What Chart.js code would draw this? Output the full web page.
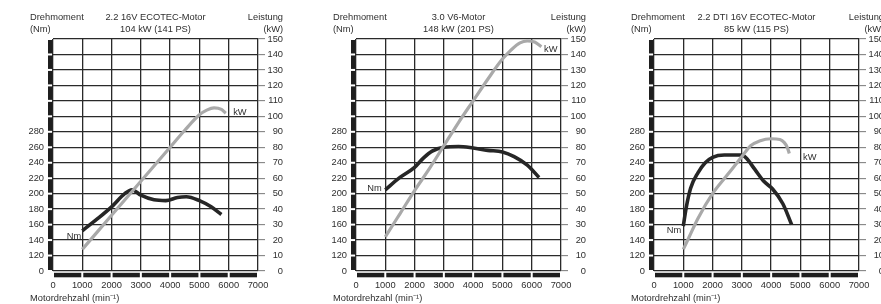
<!DOCTYPE html>
<html><head><meta charset="utf-8">
<script src="https://cdn.jsdelivr.net/npm/chart.js@4.4.1/dist/chart.umd.min.js"></script>
<style>
html,body{margin:0;padding:0;background:#fff;overflow:hidden;width:881px;height:304px;position:relative;}
.p{position:absolute;top:0;width:300px;height:304px;}
canvas{display:block;}
</style></head><body>
<div class="p" style="left:0px"><canvas id="c1" width="300" height="304"></canvas></div>
<div class="p" style="left:303px"><canvas id="c2" width="300" height="304"></canvas></div>
<div class="p" style="left:601px"><canvas id="c3" width="300" height="304"></canvas></div>
<script>
// ---------- data ----------
const rpmTicks = [0, 1000, 2000, 3000, 4000, 5000, 6000, 7000];
const kwTicks = [0, 10, 20, 30, 40, 50, 60, 70, 80, 90, 100, 110, 120, 130, 140, 150];
const nmTickValues = [100, 120, 140, 160, 180, 200, 220, 240, 260, 280];
const nmTickLabels = ['0', '120', '140', '160', '180', '200', '220', '240', '260', '280'];

const axisTitles = ['Drehmoment', '(Nm)', 'Leistung', '(kW)', 'Motordrehzahl (min\u207B\u00B9)'];

const e1Title = ['2.2 16V ECOTEC-Motor', '104 kW (141 PS)'];
const e1TorqueRpm = [1000, 1500, 2000, 2450, 2700, 3000, 3450, 3850, 4250, 4550, 5000, 5400, 5750];
const e1TorqueNm  = [152, 167, 183, 200, 205, 198, 192, 191, 195, 196, 191, 183, 173];
const e1PowerRpm  = [1000, 1500, 2000, 2500, 3000, 3500, 4000, 4500, 5000, 5250, 5500, 5750, 5900];
const e1PowerKw   = [14, 25, 36, 47, 58, 69, 80, 91, 101, 104, 105.5, 104.5, 102];
const e1LabelNm = [720, 22.4];   // rpm, kW-scale position
const e1LabelKw = [6380, 102.6];

const e2Title = ['3.0 V6-Motor', '148 kW (201 PS)'];
const e2TorqueRpm = [1000, 1500, 2000, 2300, 2600, 3000, 3500, 4000, 4500, 5000, 5400, 5850, 6250];
const e2TorqueNm  = [205, 221, 234, 246, 255, 260, 261, 259, 256, 254, 248, 237, 221];
const e2PowerRpm  = [1000, 1500, 2000, 2500, 3000, 3500, 4000, 4500, 5000, 5300, 5600, 5850, 6100, 6330];
const e2PowerKw   = [22, 37, 52, 66, 81, 96, 110, 124, 137, 143, 147.5, 148.7, 148, 145];
const e2LabelNm = [630, 53.5];
const e2LabelKw = [6650, 143];

const e3Title = ['2.2 DTI 16V ECOTEC-Motor', '85 kW (115 PS)'];
const e3TorqueRpm = [1000, 1100, 1250, 1500, 1750, 2000, 2400, 3000, 3150, 3450, 3750, 4050, 4400, 4700];
const e3TorqueNm  = [158, 182, 207, 227, 240, 247, 250, 250, 246, 231, 216, 206, 187, 160];
const e3PowerRpm  = [1000, 1200, 1500, 2000, 2500, 3000, 3300, 3600, 4000, 4300, 4450, 4550, 4620];
const e3PowerKw   = [14, 22, 34, 50, 62, 74, 81, 84, 85.5, 85, 83, 80, 76];
const e3LabelNm = [680, 26.5];
const e3LabelKw = [5320, 73.4];

// ---------- chart ----------
Chart.defaults.font.family = "'Liberation Sans', Arial, sans-serif";
Chart.defaults.font.size = 9.3;
Chart.defaults.color = '#2e2e2e';

const GRID = '#2a2a2a';

const decor = {
  id: 'decor',
  beforeDatasetsDraw(chart, args, o) {
    const ctx = chart.ctx, a = chart.chartArea;
    const xs = chart.scales.x, ys = chart.scales.ykW;
    ctx.save();
    ctx.fillStyle = '#1e1e1e';
    // left segmented bar
    for (let i = 0; i < kwTicks.length - 1; i++) {
      const y0 = ys.getPixelForValue(kwTicks[i + 1]), y1 = ys.getPixelForValue(kwTicks[i]);
      ctx.fillRect(a.left - 5, y0 + 1, 4.5, y1 - y0 - 2);
    }
    // bottom segmented bar
    for (let i = 0; i < rpmTicks.length - 1; i++) {
      const x0 = xs.getPixelForValue(rpmTicks[i]), x1 = xs.getPixelForValue(rpmTicks[i + 1]);
      ctx.fillRect(x0 + 1, a.bottom + 1.8, x1 - x0 - 2, 4.5);
    }
    ctx.restore();
  },
  afterDraw(chart, args, o) {
    const ctx = chart.ctx, a = chart.chartArea;
    const xs = chart.scales.x, ys = chart.scales.ykW;
    ctx.save();
    ctx.fillStyle = '#2e2e2e';
    ctx.font = "9.3px 'Liberation Sans', Arial, sans-serif";
    ctx.textBaseline = 'middle';
    ctx.textAlign = 'left';
    ctx.fillText(axisTitles[0], a.left - 23, 17);
    ctx.fillText(axisTitles[1], a.left - 23, 29);
    ctx.fillText(axisTitles[4], a.left - 23, 298);
    ctx.textAlign = 'right';
    ctx.fillText(axisTitles[2], a.right + 25, 17);
    ctx.fillText(axisTitles[3], a.right + 25, 29);
    ctx.textAlign = 'center';
    const cx = (a.left + a.right) / 2;
    ctx.fillText(o.title[0], cx, 17);
    ctx.fillText(o.title[1], cx, 29);
    ctx.fillText('Nm', xs.getPixelForValue(o.nm[0]), ys.getPixelForValue(o.nm[1]));
    ctx.fillText('kW', xs.getPixelForValue(o.kw[0]), ys.getPixelForValue(o.kw[1]));
    ctx.restore();
  }
};

function makeChart(id, title, tRpm, tNm, pRpm, pKw, lNm, lKw) {
  return new Chart(document.getElementById(id), {
    type: 'line',
    data: {
      datasets: [
        {
          label: 'kW', yAxisID: 'ykW',
          data: pRpm.map((r, i) => ({x: r, y: pKw[i]})),
          borderColor: '#a9a9a9', borderWidth: 3.2, pointRadius: 0,
          cubicInterpolationMode: 'monotone', borderCapStyle: 'butt', fill: false
        },
        {
          label: 'Nm', yAxisID: 'yNm',
          data: tRpm.map((r, i) => ({x: r, y: tNm[i]})),
          borderColor: '#262626', borderWidth: 3.6, pointRadius: 0,
          cubicInterpolationMode: 'monotone', borderCapStyle: 'butt', fill: false
        }
      ]
    },
    options: {
      responsive: false, animation: false, devicePixelRatio: 1,
      layout: {padding: {top: 39, right: 17, left: 0, bottom: 0}},
      plugins: {legend: {display: false}, tooltip: {enabled: false},
        decor: {title: title, nm: lNm, kw: lKw}},
      scales: {
        x: {
          type: 'linear', position: 'bottom', min: 0, max: 7000,
          afterBuildTicks(s) { s.ticks = rpmTicks.map(v => ({value: v})); },
          afterFit(s) { s.height = 33; },
          border: {display: false},
          grid: {color: GRID, lineWidth: 1.3, drawTicks: false, tickLength: 0},
          ticks: {autoSkip: false, maxRotation: 0, padding: 9, callback: v => String(v)}
        },
        yNm: {
          type: 'linear', position: 'left', min: 100, max: 400,
          afterBuildTicks(s) { s.ticks = nmTickValues.map(v => ({value: v})); },
          afterFit(s) { s.width = 53; },
          border: {display: false},
          grid: {display: false, drawTicks: false, tickLength: 0},
          ticks: {autoSkip: false, padding: 9,
            callback: v => { const i = nmTickValues.indexOf(v); return i >= 0 ? nmTickLabels[i] : ''; }}
        },
        ykW: {
          type: 'linear', position: 'right', min: 0, max: 150,
          afterBuildTicks(s) { s.ticks = kwTicks.map(v => ({value: v})); },
          afterFit(s) { s.width = 25; },
          border: {display: false},
          grid: {color: GRID, lineWidth: 1.3, drawTicks: true, tickLength: 7, tickColor: '#777', tickWidth: 1},
          ticks: {autoSkip: false, padding: 3, crossAlign: 'far', callback: v => String(v)}
        }
      }
    },
    plugins: [decor]
  });
}

makeChart('c1', e1Title, e1TorqueRpm, e1TorqueNm, e1PowerRpm, e1PowerKw, e1LabelNm, e1LabelKw);
makeChart('c2', e2Title, e2TorqueRpm, e2TorqueNm, e2PowerRpm, e2PowerKw, e2LabelNm, e2LabelKw);
makeChart('c3', e3Title, e3TorqueRpm, e3TorqueNm, e3PowerRpm, e3PowerKw, e3LabelNm, e3LabelKw);
</script>
</body></html>
